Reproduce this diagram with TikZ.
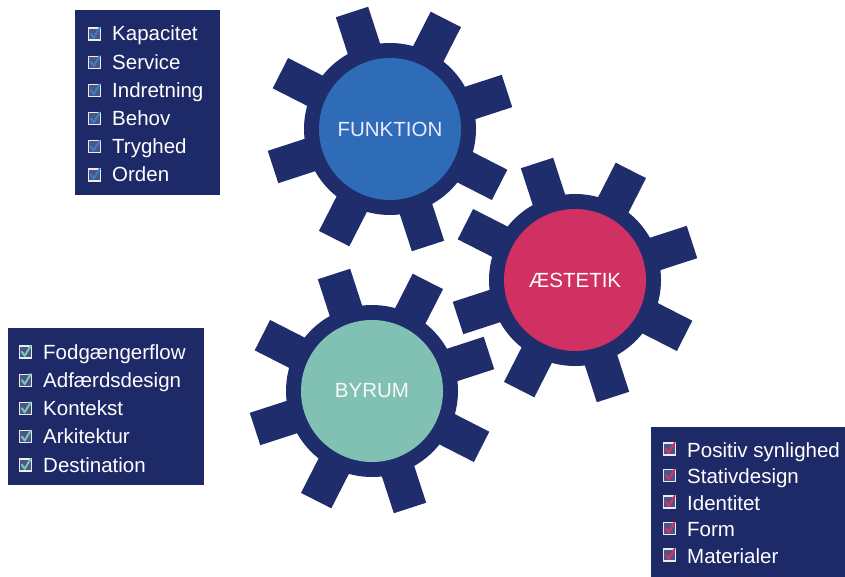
\documentclass[tikz,border=0pt]{standalone}
\usepackage{fontspec}
\setmainfont{Liberation Sans}
\usetikzlibrary{calc}
\definecolor{navy}{RGB}{31,45,108}
\definecolor{boxnavy}{RGB}{30,42,104}
\definecolor{funkblue}{RGB}{46,108,184}
\definecolor{aespink}{RGB}{208,48,98}
\definecolor{byteal}{RGB}{128,193,180}
\definecolor{chkblue}{RGB}{60,125,200}
\definecolor{chkteal}{RGB}{120,200,185}
\definecolor{chkpink}{RGB}{214,50,106}
\newcommand{\itemfont}{\fontsize{20.5}{24}\selectfont}
\tikzset{
  gearpart/.style={fill=navy},
  hub/.style={circle, minimum size=142pt, inner sep=0pt, text=white, font=\itemfont},
  listbox/.style={fill=boxnavy, inner sep=0pt},
  item/.style={anchor=base west, inner sep=0pt, text=white, font=\itemfont},
  chk/.pic={
    \fill[boxnavy!80!white] (-6,-6) rectangle (6,6);
    \draw[white!85!gray, line width=1.1pt] (-6,-6) rectangle (6,6);
    \draw[#1, line width=2pt, line cap=round, line join=round] (-3.6,0.2) -- (-0.8,-3.8) -- (5.2,6.2);
  }
}
\begin{document}
\begin{tikzpicture}[x=1pt,y=1pt]
\useasboundingbox (0,0) rectangle (845,-577);
\fill[white] (0,0) rectangle (845,-577);

% gears
\foreach \cx/\cy in {390/129, 575/280, 372/391}{
  \begin{scope}[shift={(\cx,-\cy)}]
    \fill[gearpart] (0,0) circle (86pt);
    \foreach \a in {18,63,...,333}
      \fill[gearpart, rotate=\a] (60,-17) rectangle (123,17);
  \end{scope}
}
\node[hub, fill=funkblue, text=white!92!blue] (funktion) at (390,-129) {FUNKTION};
\node[hub, fill=aespink] (aestetik) at (575,-280) {ÆSTETIK};
\node[hub, fill=byteal, text=white!95!gray] (byrum) at (372,-391) {BYRUM};

% list boxes
\node[listbox, minimum width=145pt, minimum height=185pt] (boxF) at (147.5,-102.5) {};
\node[listbox, minimum width=196pt, minimum height=157pt] (boxB) at (106,-406.5) {};
\node[listbox, minimum width=194pt, minimum height=150pt] (boxA) at (748,-502) {};

\foreach \t [count=\i] in {Kapacitet,Service,Indretning,Behov,Tryghed,Orden}{
  \node[item] (f\i) at (112,{-41-28.2*(\i-1)}) {\t};
  \pic at ($(f\i.base west)+(-17.5,7)$) {chk=chkblue};
}
\foreach \t [count=\i] in {Fodgængerflow,Adfærdsdesign,Kontekst,Arkitektur,Destination}{
  \node[item] (b\i) at (43,{-359-28.25*(\i-1)}) {\t};
  \pic at ($(b\i.base west)+(-17.5,7)$) {chk=chkteal};
}
\foreach \t [count=\i] in {Positiv synlighed,Stativdesign,Identitet,Form,Materialer}{
  \node[item] (a\i) at (687,{-457-26.5*(\i-1)}) {\t};
  \pic at ($(a\i.base west)+(-17.5,8)$) {chk=chkpink};
}
\end{tikzpicture}
\end{document}
